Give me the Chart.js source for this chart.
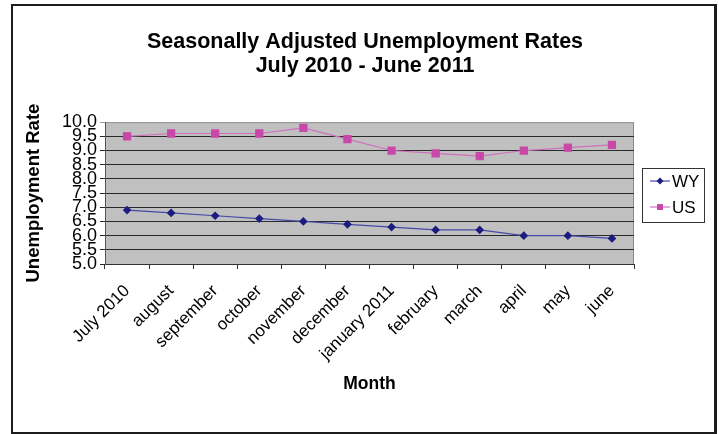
<!DOCTYPE html>
<html>
<head>
<meta charset="utf-8">
<script src="https://cdn.jsdelivr.net/npm/chart.js@4.4.1/dist/chart.umd.min.js"></script>
<style>
  html, body { margin: 0; padding: 0; background: #fff; }
  #wrap { position: relative; width: 719px; height: 434px; }
  #frame {
    position: absolute; left: 11px; top: 4px; width: 701px; height: 426px;
    border: 2px solid #1c1c1c; border-right-width: 3px; pointer-events: none;
  }
</style>
</head>
<body>
<div id="wrap">
  <canvas id="grafico" width="719" height="434"></canvas>
  <div id="frame"></div>
</div>
<script>
// DATA
const months = ["July 2010", "august", "september", "october", "november", "december",
  "january 2011", "february", "march", "april", "may", "june"];
const wyRate = [6.9, 6.8, 6.7, 6.6, 6.5, 6.4, 6.3, 6.2, 6.2, 6.0, 6.0, 5.9];
const usRate = [9.5, 9.6, 9.6, 9.6, 9.8, 9.4, 9.0, 8.9, 8.8, 9.0, 9.1, 9.2];
const titleLines = ["Seasonally Adjusted Unemployment Rates", "July 2010 - June 2011"];

const FONT = "'Liberation Sans', Arial, sans-serif";

// gray plot background
const plotBg = {
  id: "plotBg",
  beforeDraw(chart) {
    const { ctx, chartArea: a } = chart;
    ctx.save();
    ctx.fillStyle = "#c0c0c0";
    ctx.fillRect(a.left, a.top, a.right - a.left, a.bottom - a.top);
    ctx.strokeStyle = "#8c8c8c";
    ctx.lineWidth = 1;
    ctx.strokeRect(a.left + 0.5, a.top + 0.5, a.right - a.left - 1, a.bottom - a.top);
    ctx.restore();
  }
};

// boxed legend, line + marker like the original
const boxLegend = {
  id: "boxLegend",
  afterDraw(chart) {
    const { ctx, chartArea: a } = chart;
    const sets = chart.data.datasets;
    const rowH = 26, w = 62, h = rowH * sets.length + 2;
    const x = a.right + 8;
    const y = Math.round((a.top + a.bottom) / 2 + 2 - h / 2);
    ctx.save();
    ctx.fillStyle = "#fff";
    ctx.fillRect(x, y, w, h);
    ctx.strokeStyle = "#333";
    ctx.lineWidth = 1;
    ctx.strokeRect(x + 0.5, y + 0.5, w, h);
    sets.forEach((ds, i) => {
      const cy = y + 13 + i * rowH;
      ctx.strokeStyle = ds.borderColor;
      ctx.lineWidth = 1.2;
      ctx.beginPath();
      ctx.moveTo(x + 8, cy);
      ctx.lineTo(x + 28, cy);
      ctx.stroke();
      ctx.fillStyle = ds.pointBackgroundColor;
      ctx.beginPath();
      if (ds.pointStyle === "rect") {
        ctx.rect(x + 15, cy - 3, 6, 6);
      } else {
        ctx.moveTo(x + 18, cy - 3.5);
        ctx.lineTo(x + 21.5, cy);
        ctx.lineTo(x + 18, cy + 3.5);
        ctx.lineTo(x + 14.5, cy);
        ctx.closePath();
      }
      ctx.fill();
      ctx.fillStyle = "#000";
      ctx.font = "17px " + FONT;
      ctx.textBaseline = "middle";
      ctx.fillText(ds.label, x + 30, cy + 1);
    });
    ctx.restore();
  }
};

new Chart(document.getElementById("grafico"), {
  type: "line",
  data: {
    labels: months,
    datasets: [
      {
        label: "WY",
        data: wyRate,
        borderColor: "#4848a8",
        backgroundColor: "#1c1c80",
        pointBackgroundColor: "#1c1c80",
        pointBorderColor: "#1c1c80",
        pointStyle: "rectRot",
        pointRadius: 3.5,
        borderWidth: 1.2,
        tension: 0
      },
      {
        label: "US",
        data: usRate,
        borderColor: "#d070c0",
        backgroundColor: "#c848a8",
        pointBackgroundColor: "#c848a8",
        pointBorderColor: "#c848a8",
        pointStyle: "rect",
        pointRadius: 5,
        borderWidth: 1.2,
        tension: 0
      }
    ]
  },
  options: {
    responsive: false,
    animation: false,
    layout: { padding: { left: 19, right: 8, top: 10, bottom: 35 } },
    plugins: {
      legend: { display: false },
      tooltip: { enabled: false },
      title: {
        display: true,
        text: titleLines,
        color: "#000",
        font: { family: FONT, size: 21.5, weight: "bold", lineHeight: 1.12 },
        padding: { top: 20, bottom: 44 }
      }
    },
    scales: {
      x: {
        offset: true,
        afterFit(scale) { scale.height = 135; },
        grid: {
          offset: true,
          drawOnChartArea: false,
          color: "#333",
          tickLength: 5
        },
        border: { color: "#333" },
        ticks: {
          color: "#000",
          font: { family: FONT, size: 17 },
          padding: 12,
          minRotation: 45,
          maxRotation: 45,
          autoSkip: false
        },
        title: {
          display: true,
          text: "Month",
          color: "#000",
          font: { family: FONT, size: 17.5, weight: "bold" }
        }
      },
      y: {
        min: 5,
        max: 10,
        afterFit(scale) { scale.width = 86; },
        grid: {
          color: (c) => (c.tick && c.tick.value === 10 ? "#999" : "#2a2a2a"),
          tickLength: 5
        },
        border: { color: "#555" },
        ticks: {
          stepSize: 0.5,
          autoSkip: false,
          color: "#000",
          font: { family: FONT, size: 18 },
          callback: (v) => Number(v).toFixed(1)
        },
        title: {
          display: true,
          text: "Unemployment Rate",
          color: "#000",
          font: { family: FONT, size: 18.5, weight: "bold" }
        }
      },
      // empty right-hand strip that holds the legend box
      legendSpace: {
        type: "linear",
        position: "right",
        afterFit(scale) { scale.width = 77; },
        grid: { display: false },
        border: { display: false },
        ticks: { display: false }
      }
    }
  },
  plugins: [plotBg, boxLegend]
});
</script>
</body>
</html>
